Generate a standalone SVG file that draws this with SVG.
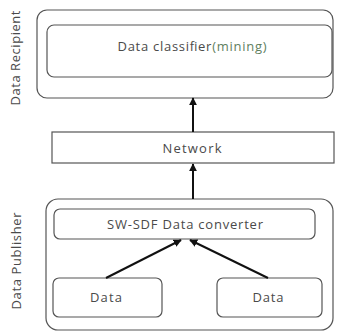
<svg xmlns="http://www.w3.org/2000/svg" width="337" height="335" viewBox="0 0 337 335">
  <style>
    .box { fill: #ffffff; stroke: #555555; stroke-width: 1.2; }
    .label { font-family: "Open Sans", "Liberation Sans", sans-serif; font-size: 13px; fill: #4a4a4a; text-anchor: middle; dominant-baseline: central; }
    .edge { stroke: #111111; stroke-width: 2; fill: none; marker-end: url(#head); }
  </style>
  <defs>
    <marker id="head" viewBox="0 0 10 10" refX="9" refY="5" markerWidth="4" markerHeight="4" orient="auto" markerUnits="strokeWidth">
      <path d="M0,0 L10,5 L0,10 z" fill="#111111"/>
    </marker>
  </defs>
  <rect width="337" height="335" fill="#ffffff"/>

  <!-- Recipient side -->
  <g id="recipient">
    <rect class="box" x="37" y="10" width="296" height="88" rx="10"/>
    <text class="label" transform="translate(15,58) rotate(-90)" textLength="95">Data Recipient</text>
  </g>
  <g id="classifier">
    <rect class="box" x="47" y="25" width="285" height="52" rx="7"/>
    <text class="label" x="192" y="46" textLength="149">Data classifier<tspan fill="#5f805f">(mining)</tspan></text>
  </g>

  <g id="network">
    <rect class="box" x="52" y="132" width="282" height="31"/>
    <text class="label" x="192" y="148" textLength="59">Network</text>
  </g>

  <!-- Publisher side -->
  <g id="publisher">
    <rect class="box" x="46" y="199" width="287" height="131" rx="12"/>
    <text class="label" transform="translate(16,261) rotate(-90)" textLength="97">Data Publisher</text>
  </g>
  <g id="converter">
    <rect class="box" x="54" y="209" width="261" height="30" rx="6"/>
    <text class="label" x="185" y="224" textLength="156">SW-SDF Data converter</text>
  </g>
  <g id="data-left">
    <rect class="box" x="53" y="278" width="109" height="39" rx="6"/>
    <text class="label" x="106" y="297" textLength="32">Data</text>
  </g>
  <g id="data-right">
    <rect class="box" x="217" y="278" width="105" height="39" rx="6"/>
    <text class="label" x="268" y="297" textLength="31">Data</text>
  </g>

  <g id="connectors">
    <line class="edge" x1="193" y1="132" x2="193" y2="98"/>
    <line class="edge" x1="193" y1="199" x2="193" y2="164"/>
    <line class="edge" x1="106" y1="278" x2="181" y2="240"/>
    <line class="edge" x1="268" y1="278" x2="190" y2="240"/>
  </g>
</svg>
